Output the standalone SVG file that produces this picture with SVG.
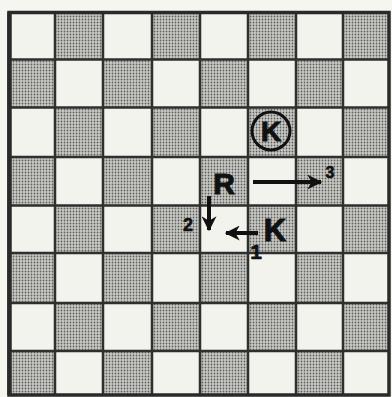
<svg xmlns="http://www.w3.org/2000/svg" width="392" height="397" viewBox="0 0 392 397">
<defs>
<pattern id="dots" width="3" height="3" patternUnits="userSpaceOnUse">
<rect width="3" height="3" fill="#cacac6"/>
<circle cx="1.5" cy="1.5" r="0.9" fill="#5e5e5b"/>
</pattern>
<marker id="head" viewBox="0 0 12 12" refX="11" refY="6" markerWidth="15" markerHeight="15" markerUnits="userSpaceOnUse" orient="auto">
<path d="M0,0 L12,6 L0,12 L3.5,6 z" fill="#111"/>
</marker>
<style>
.dk{fill:url(#dots)}
.grid{fill:none;stroke:#2f2f2f;stroke-width:2.5}
.pc{font-family:"Liberation Sans",Arial,sans-serif;font-weight:bold;fill:#111;stroke:#111;stroke-width:1;text-anchor:middle}
.num{font-family:"Liberation Sans",Arial,sans-serif;font-weight:bold;fill:#111;stroke:#111;stroke-width:0.6;text-anchor:middle}
.arr{fill:none;stroke:#111;stroke-width:4;marker-end:url(#head)}
</style>
</defs>
<rect width="392" height="397" fill="#f6f6f1"/>
<g id="board">
<rect x="9" y="12.5" width="380" height="382.5" fill="#f3f3ed"/>
<rect class="dk" x="55" y="12.5" width="48" height="47"/>
<rect class="dk" x="152" y="12.5" width="48" height="47"/>
<rect class="dk" x="248" y="12.5" width="48" height="47"/>
<rect class="dk" x="343" y="12.5" width="46" height="47"/>
<rect class="dk" x="9" y="59.5" width="46" height="48"/>
<rect class="dk" x="103" y="59.5" width="49" height="48"/>
<rect class="dk" x="200" y="59.5" width="48" height="48"/>
<rect class="dk" x="296" y="59.5" width="47" height="48"/>
<rect class="dk" x="55" y="107.5" width="48" height="49.5"/>
<rect class="dk" x="152" y="107.5" width="48" height="49.5"/>
<rect class="dk" x="248" y="107.5" width="48" height="49.5"/>
<rect class="dk" x="343" y="107.5" width="46" height="49.5"/>
<rect class="dk" x="9" y="157" width="46" height="48.5"/>
<rect class="dk" x="103" y="157" width="49" height="48.5"/>
<rect class="dk" x="200" y="157" width="48" height="48.5"/>
<rect class="dk" x="296" y="157" width="47" height="48.5"/>
<rect class="dk" x="55" y="205.5" width="48" height="47.5"/>
<rect class="dk" x="152" y="205.5" width="48" height="47.5"/>
<rect class="dk" x="248" y="205.5" width="48" height="47.5"/>
<rect class="dk" x="343" y="205.5" width="46" height="47.5"/>
<rect class="dk" x="9" y="253" width="46" height="50"/>
<rect class="dk" x="103" y="253" width="49" height="50"/>
<rect class="dk" x="200" y="253" width="48" height="50"/>
<rect class="dk" x="296" y="253" width="47" height="50"/>
<rect class="dk" x="55" y="303" width="48" height="48"/>
<rect class="dk" x="152" y="303" width="48" height="48"/>
<rect class="dk" x="248" y="303" width="48" height="48"/>
<rect class="dk" x="343" y="303" width="46" height="48"/>
<rect class="dk" x="9" y="351" width="46" height="44"/>
<rect class="dk" x="103" y="351" width="49" height="44"/>
<rect class="dk" x="200" y="351" width="48" height="44"/>
<rect class="dk" x="296" y="351" width="47" height="44"/>
<path class="grid" d="M55,12.5V395M103,12.5V395M152,12.5V395M200,12.5V395M248,12.5V395M296,12.5V395M343,12.5V395M9,59.5H389M9,107.5H389M9,157H389M9,205.5H389M9,253H389M9,303H389M9,351H389"/>
<rect x="9" y="12.5" width="380" height="382.5" fill="none" stroke="#2a2a2a" stroke-width="3.5"/>
<line x1="9.5" y1="12.5" x2="9.5" y2="395" stroke="#2a2a2a" stroke-width="4.5"/>
</g>
<g id="king-circled">
<circle cx="271" cy="131" r="19" fill="none" stroke="#111" stroke-width="3"/>
<text class="pc" x="271" y="141" font-size="28">K</text>
</g>
<g id="rook">
<text class="pc" x="224" y="193.5" font-size="30">R</text>
</g>
<g id="king">
<text class="pc" x="275" y="240.5" font-size="31">K</text>
</g>
<g id="connectors">
<line class="arr" x1="253" y1="182" x2="321" y2="182"/>
<line class="arr" x1="209" y1="196" x2="209" y2="230"/>
<line class="arr" x1="258" y1="233" x2="226" y2="233"/>
<text class="num" x="330" y="178" font-size="16">3</text>
<text class="num" x="188" y="230.5" font-size="18">2</text>
<text class="num" x="256" y="259" font-size="21">1</text>
</g>
</svg>
